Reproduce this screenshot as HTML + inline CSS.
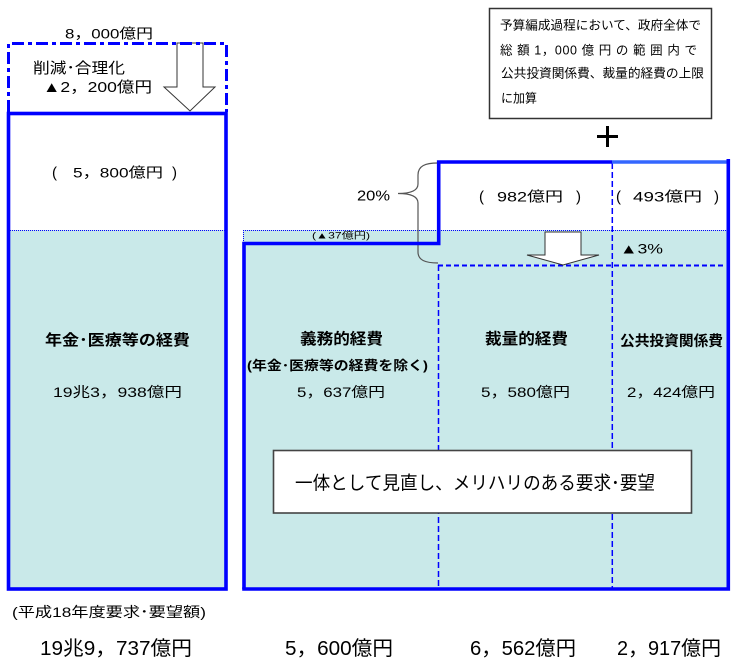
<!DOCTYPE html>
<html><head><meta charset="utf-8"><style>
html,body{margin:0;padding:0;background:#fff;}
svg{display:block;}
text{font-family:"Liberation Sans","Noto Sans CJK JP",sans-serif;fill:#000;}
.b{font-weight:bold;}
</style></head><body>
<svg width="735" height="664" viewBox="0 0 735 664" xmlns="http://www.w3.org/2000/svg">
<rect x="0" y="0" width="735" height="664" fill="#fff"/>

<!-- fills -->
<rect x="10" y="230" width="215" height="359" fill="#c9e9e9"/>
<rect x="243" y="230" width="484" height="359" fill="#c9e9e9"/>
<line x1="10" y1="230.5" x2="225" y2="230.5" stroke="#0000ff" stroke-width="1" stroke-dasharray="1 1"/>
<line x1="243" y1="230.5" x2="727" y2="230.5" stroke="#0000ff" stroke-width="1" stroke-dasharray="1 1"/>
<line x1="243.5" y1="230" x2="243.5" y2="243" stroke="#0000ff" stroke-width="1" stroke-dasharray="1 1"/>

<!-- dashed inner lines -->
<line x1="438.5" y1="265" x2="438.5" y2="589" stroke="#0000ff" stroke-width="1.5" stroke-dasharray="6 3"/>
<line x1="612.3" y1="163" x2="612.3" y2="589" stroke="#0000ff" stroke-width="1.5" stroke-dasharray="6 3"/>
<line x1="438" y1="265.5" x2="726" y2="265.5" stroke="#0000ff" stroke-width="2" stroke-dasharray="5 3"/>

<!-- big arrow -->
<polygon points="177,43 203,43 203,87 215,87 190,111 164,87 177,87" fill="#fff" stroke="#333" stroke-width="1"/>
<!-- dash-dot box -->
<path d="M8.5,112 L8.5,43.5 L226.5,43.5 L226.5,112" fill="none" stroke="#0000ff" stroke-width="3" stroke-dasharray="12 4 4 4"/>

<!-- small arrow -->
<polygon points="545,232 581,232 581,255 599,255 563,265 527,255 545,255" fill="#fff" stroke="#333" stroke-width="1"/>

<!-- brace -->
<path d="M438,163 C425,163 418,166 418,175 L418,184 C418,191 410,193.5 398,193.5 C410,193.5 418,196 418,203 L418,252 C418,260 425,263 438,263" fill="none" stroke="#555" stroke-width="1.2"/>

<!-- left thick box -->
<rect x="8.5" y="113.5" width="217.5" height="475.5" fill="none" stroke="#0000ff" stroke-width="3.6"/>

<!-- right thick box -->
<path d="M244,589 L244,243.5 L438.7,243.5 L438.7,162 L612,162" fill="none" stroke="#0000ff" stroke-width="3.6"/>
<line x1="612" y1="162" x2="727" y2="162" stroke="#3366ff" stroke-width="3.6"/>
<path d="M728.3,159 L728.3,589 L242.2,589" fill="none" stroke="#0000ff" stroke-width="3.6"/>

<!-- top-right text box -->
<rect x="489.5" y="8.5" width="222" height="110" fill="#fff" stroke="#333" stroke-width="1.5"/>
<text x="500" y="29.5" font-size="12.5" textLength="201" lengthAdjust="spacingAndGlyphs">予算編成過程において、政府全体で</text>
<text x="500" y="54.5" font-size="12.5" textLength="197" lengthAdjust="spacing">総 額 1，000 億 円 の 範 囲 内 で</text>
<text x="501" y="77.5" font-size="12.5" textLength="203" lengthAdjust="spacingAndGlyphs">公共投資関係費、裁量的経費の上限</text>
<text x="501" y="102.5" font-size="12.5" textLength="36" lengthAdjust="spacingAndGlyphs">に加算</text>

<!-- plus -->
<line x1="597" y1="136.5" x2="618" y2="136.5" stroke="#000" stroke-width="3"/>
<line x1="607.5" y1="126" x2="607.5" y2="147" stroke="#000" stroke-width="3"/>

<!-- left top texts -->
<text x="65" y="38.5" font-size="14" textLength="88" lengthAdjust="spacingAndGlyphs">8，000億円</text>
<text x="33" y="73" font-size="15" textLength="92" lengthAdjust="spacingAndGlyphs">削減･合理化</text>
<text x="43" y="92" font-size="15" textLength="109" lengthAdjust="spacingAndGlyphs">▲2，200億円</text>

<text x="52" y="177.5" font-size="15">(</text>
<text x="73" y="177.5" font-size="14" textLength="90" lengthAdjust="spacingAndGlyphs">5，800億円</text>
<text x="172" y="177.5" font-size="15">)</text>

<text class="b" x="45" y="345" font-size="15" textLength="145" lengthAdjust="spacingAndGlyphs">年金･医療等の経費</text>
<text x="53" y="397" font-size="14" textLength="129" lengthAdjust="spacingAndGlyphs">19兆3，938億円</text>

<!-- right top texts -->
<text x="357" y="200.5" font-size="15" textLength="33" lengthAdjust="spacingAndGlyphs">20%</text>
<text x="479" y="201.5" font-size="15">(</text>
<text x="497" y="201.5" font-size="14" textLength="66" lengthAdjust="spacingAndGlyphs">982億円</text>
<text x="576" y="201.5" font-size="15">)</text>
<text x="616" y="201.5" font-size="15">(</text>
<text x="633" y="201.5" font-size="14" textLength="69" lengthAdjust="spacingAndGlyphs">493億円</text>
<text x="714" y="201.5" font-size="15">)</text>
<text x="620" y="253.5" font-size="14" textLength="43" lengthAdjust="spacingAndGlyphs">▲3%</text>
<text x="312" y="238.5" font-size="9" textLength="58" lengthAdjust="spacingAndGlyphs">(▲37億円)</text>

<!-- column labels -->
<text class="b" x="300" y="344" font-size="15.5" textLength="83" lengthAdjust="spacingAndGlyphs">義務的経費</text>
<text class="b" x="247" y="370" font-size="13" textLength="181" lengthAdjust="spacingAndGlyphs">(年金･医療等の経費を除く)</text>
<text x="297" y="397" font-size="14" textLength="88" lengthAdjust="spacingAndGlyphs">5，637億円</text>

<text class="b" x="485" y="344" font-size="15.5" textLength="83" lengthAdjust="spacingAndGlyphs">裁量的経費</text>
<text x="481" y="397" font-size="14" textLength="89" lengthAdjust="spacingAndGlyphs">5，580億円</text>

<text class="b" x="620" y="346" font-size="14.5" textLength="103" lengthAdjust="spacingAndGlyphs">公共投資関係費</text>
<text x="627" y="397" font-size="14" textLength="88" lengthAdjust="spacingAndGlyphs">2，424億円</text>

<!-- inner box -->
<rect x="273.5" y="450.5" width="418" height="62.5" fill="#fff" stroke="#444" stroke-width="1.6"/>
<text x="295" y="489.5" font-size="18.5" textLength="360" lengthAdjust="spacingAndGlyphs">一体として見直し、メリハリのある要求･要望</text>

<!-- bottom -->
<text x="12" y="617" font-size="14" textLength="194" lengthAdjust="spacingAndGlyphs">(平成18年度要求･要望額)</text>
<text x="40" y="655" font-size="20" textLength="152" lengthAdjust="spacingAndGlyphs">19兆9，737億円</text>
<text x="285" y="655" font-size="20" textLength="108" lengthAdjust="spacingAndGlyphs">5，600億円</text>
<text x="470" y="655" font-size="20" textLength="106" lengthAdjust="spacingAndGlyphs">6，562億円</text>
<text x="617" y="655" font-size="20" textLength="104" lengthAdjust="spacingAndGlyphs">2，917億円</text>
</svg>
</body></html>
